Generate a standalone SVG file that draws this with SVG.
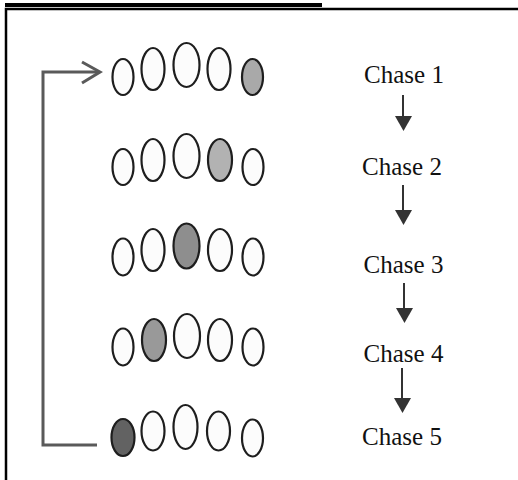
<svg xmlns="http://www.w3.org/2000/svg" width="518" height="480" viewBox="0 0 518 480">
<defs>
<style>
.e{stroke:#1e1e1e;stroke-width:2.2;fill:#fcfcfc}
.t{font-family:"Liberation Serif","Times New Roman",serif;font-size:25px;fill:#111;text-anchor:middle}
.a{stroke:#333;stroke-width:2}
.h{fill:#333}
.loop{fill:none;stroke:#5a5a5a;stroke-width:3}
</style>
</defs>
<rect width="518" height="480" fill="#fff"/>
<rect x="5" y="3" width="317" height="4" fill="#000"/>
<path d="M6,480 V9 H518" fill="none" stroke="#000" stroke-width="2.5"/>

<g id="connectors">
<path class="loop" d="M97,445 H43 V72 H99"/>
<polyline class="loop" points="82,62 100,72 82,83"/>
<line class="a" x1="403" y1="95" x2="403" y2="118"/>
<polygon class="h" points="395,116 412,116 403.5,131"/>
<line class="a" x1="403" y1="185" x2="403" y2="212"/>
<polygon class="h" points="395,210 412,210 403.5,225"/>
<line class="a" x1="404" y1="283" x2="404" y2="310"/>
<polygon class="h" points="396,308 413,308 404.5,323"/>
<line class="a" x1="402" y1="368" x2="402" y2="400"/>
<polygon class="h" points="394,398 411,398 402.5,413"/>
</g>

<g id="row1">
<ellipse class="e" cx="123" cy="77" rx="10.5" ry="18"/>
<ellipse class="e" cx="153" cy="69" rx="11.5" ry="21"/>
<ellipse class="e" cx="186.5" cy="65" rx="13" ry="22"/>
<ellipse class="e" cx="219" cy="69" rx="11.5" ry="21"/>
<ellipse class="e" cx="252.5" cy="77" rx="10.5" ry="18" fill="#a9a9a9" style="fill:#a9a9a9"/>
</g>
<g id="row2">
<ellipse class="e" cx="123" cy="167" rx="10.5" ry="18"/>
<ellipse class="e" cx="153" cy="160" rx="11.5" ry="21"/>
<ellipse class="e" cx="186.5" cy="156" rx="13" ry="22"/>
<ellipse class="e" cx="220" cy="160" rx="12" ry="21" style="fill:#b2b2b2"/>
<ellipse class="e" cx="253" cy="167" rx="10.5" ry="18"/>
</g>
<g id="row3">
<ellipse class="e" cx="123" cy="257" rx="10.5" ry="18.5"/>
<ellipse class="e" cx="153" cy="250" rx="11.5" ry="21"/>
<ellipse class="e" cx="186.5" cy="246" rx="13" ry="22.5" style="fill:#8e8e8e"/>
<ellipse class="e" cx="220" cy="250" rx="12" ry="21"/>
<ellipse class="e" cx="253" cy="257" rx="10.5" ry="18.5"/>
</g>
<g id="row4">
<ellipse class="e" cx="123" cy="347" rx="10.5" ry="18.5"/>
<ellipse class="e" cx="154" cy="340" rx="12" ry="21" style="fill:#999"/>
<ellipse class="e" cx="187" cy="336" rx="13" ry="22"/>
<ellipse class="e" cx="220" cy="340" rx="12" ry="21"/>
<ellipse class="e" cx="253" cy="347" rx="10.5" ry="18.5"/>
</g>
<g id="row5">
<ellipse class="e" cx="123" cy="437.5" rx="11.5" ry="18.5" style="fill:#626262"/>
<ellipse class="e" cx="153" cy="431" rx="11.5" ry="19.5"/>
<ellipse class="e" cx="185.5" cy="427" rx="12" ry="22"/>
<ellipse class="e" cx="218.5" cy="431" rx="11.5" ry="19.5"/>
<ellipse class="e" cx="252.5" cy="438" rx="10.5" ry="18.5"/>
</g>

<g id="chase1"><text class="t" x="404" y="83">Chase 1</text></g>
<g id="chase2"><text class="t" x="402" y="175">Chase 2</text></g>
<g id="chase3"><text class="t" x="403.5" y="273">Chase 3</text></g>
<g id="chase4"><text class="t" x="403.5" y="362">Chase 4</text></g>
<g id="chase5"><text class="t" x="402" y="445">Chase 5</text></g>
</svg>
